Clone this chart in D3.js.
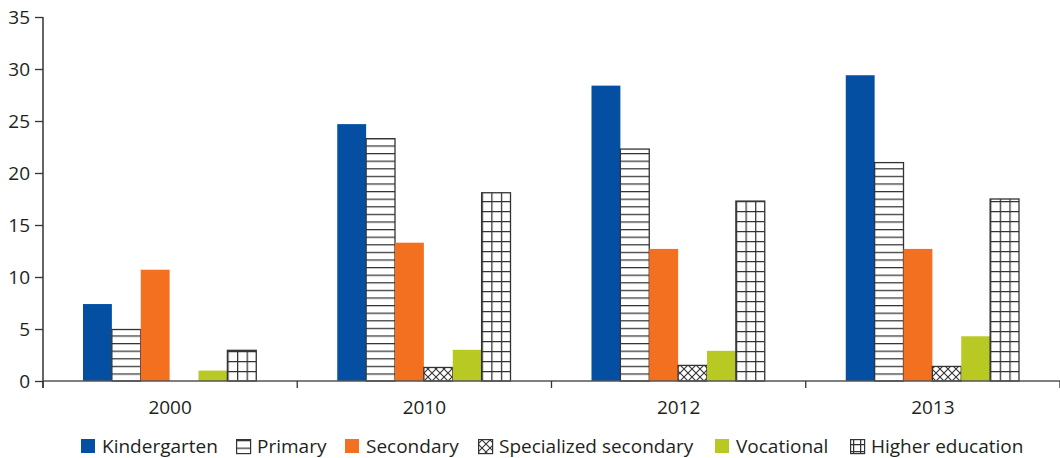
<!DOCTYPE html>
<html><head><meta charset="utf-8">
<script src="https://cdn.jsdelivr.net/npm/d3@7"></script>
<style>body{margin:0;background:#fff}svg{display:block}text{font-family:"Open Sans",sans-serif;fill:#231f20}</style>
</head><body><svg id="c" width="1060" height="458"></svg>
<script>
const years = ["2000","2010","2012","2013"];
const seriesNames = ["Kindergarten","Primary","Secondary","Specialized secondary","Vocational","Higher education"];
const kindergarten = [7.4, 24.7, 28.4, 29.4];
const primary = [4.95, 23.3, 22.3, 21.0];
const secondary = [10.7, 13.3, 12.7, 12.7];
const specialized = [0, 1.3, 1.5, 1.4];
const vocational = [1.0, 3.0, 2.9, 4.3];
const higher = [2.95, 18.1, 17.3, 17.5];
const yTicks = [0,5,10,15,20,25,30,35];

const values = [kindergarten, primary, secondary, specialized, vocational, higher];
const baseFills = ["#054fa3","url(#pPrim)","#f37021","url(#pSpec)","#b8c924",null];
const outlined = [false,true,false,true,false,true];

const svg = d3.select("#c");
const m = {l:43, r:0, t:17, b:77};
const W = 1060, H = 458;
const FS = "19px";
const x0 = d3.scaleBand().domain(years).range([m.l, W - m.r]).paddingInner(0).paddingOuter(0);
const x1 = d3.scaleBand().domain(seriesNames).range([40, x0.bandwidth()-41]).padding(0);
const y = d3.scaleLinear().domain([0,35]).range([H - m.b, m.t]);

const defs = svg.append("defs");
const pp = defs.append("pattern").attr("id","pPrim").attr("patternUnits","userSpaceOnUse").attr("width",8).attr("height",7.6).attr("y", y(0));
pp.append("rect").attr("width",8).attr("height",7.6).attr("fill","#fff");
pp.append("line").attr("x1",0).attr("x2",8).attr("y1",0.6).attr("y2",0.6).attr("stroke","#333").attr("stroke-width",1.3);
const ps = defs.append("pattern").attr("id","pSpec").attr("patternUnits","userSpaceOnUse").attr("width",8).attr("height",8).attr("y", y(0));
ps.append("rect").attr("width",8).attr("height",8).attr("fill","#fff");
ps.append("path").attr("d","M0,0L8,8M8,0L0,8").attr("stroke","#333").attr("stroke-width",1.1);
function highPattern(id, x0p, y0p, cw, ch) {
  const p = defs.append("pattern").attr("id", id).attr("patternUnits","userSpaceOnUse")
    .attr("width", cw).attr("height", ch).attr("x", x0p).attr("y", y0p);
  p.append("rect").attr("width", cw).attr("height", ch).attr("fill","#fff");
  p.append("line").attr("x1",0).attr("x2",cw).attr("y1",0.6).attr("y2",0.6).attr("stroke","#333").attr("stroke-width",1.3);
  p.append("line").attr("x1",0.6).attr("x2",0.6).attr("y1",0).attr("y2",ch).attr("stroke","#333").attr("stroke-width",1.3);
}

// bars
const g = svg.append("g");
years.forEach((yr, i) => {
  seriesNames.forEach((s, j) => {
    const v = values[j][i];
    if (!v) return;
    const bx = x0(yr) + x1(s);
    let fill = baseFills[j];
    if (fill === null) {
      const id = "pHigh" + i;
      highPattern(id, bx, y(0), x1.bandwidth() / 3, 10);
      fill = `url(#${id})`;
    }
    g.append("rect").attr("x", bx).attr("y", y(v)).attr("width", x1.bandwidth()).attr("height", y(0) - y(v))
      .attr("fill", fill)
      .attr("stroke", outlined[j] ? "#333" : "none").attr("stroke-width", outlined[j] ? 1.3 : 0);
  });
});

// y axis
const ya = svg.append("g").attr("transform", `translate(${m.l},0)`)
  .call(d3.axisLeft(y).tickValues(yTicks).tickSize(8).tickPadding(5));
ya.select(".domain").attr("stroke","#333").attr("stroke-width",1.5).attr("d", `M0,${m.t}V${y(0)+7}`);
ya.selectAll(".tick line").attr("stroke","#333").attr("stroke-width",1.3);
ya.selectAll("text").style("font-size",FS).style("fill","#231f20");

// x axis
const xa = svg.append("g").attr("transform", `translate(0,${y(0)})`)
  .call(d3.axisBottom(x0).tickSize(0).tickPadding(20));
xa.select(".domain").attr("stroke","#555").attr("stroke-width",1.5).attr("d", `M${m.l},0H${W}`);
xa.selectAll("text").style("font-size",FS).style("fill","#231f20");
const bounds = years.map(yr => x0(yr)).concat([x0(years[years.length-1]) + x0.bandwidth()]);
xa.selectAll(".bt").data(bounds).enter().append("line").attr("class","bt")
  .attr("x1", d => d).attr("x2", d => d).attr("y1", 0).attr("y2", 7).attr("stroke","#333").attr("stroke-width",1.3);

// legend
const lg = svg.append("g");
const legX = [81, 236, 345, 478, 715, 850];
seriesNames.forEach((s, j) => {
  const it = lg.append("g").attr("transform", `translate(${legX[j]},439)`);
  let lf = baseFills[j];
  if (lf === null) { highPattern("pHighLeg", legX[j], 439, 7, 7); lf = "url(#pHighLeg)"; }
  it.append("rect").attr("width", 14).attr("height", 14).attr("fill", lf)
    .attr("stroke", outlined[j] ? "#333" : "none").attr("stroke-width", 1.2)
    .attr("x", outlined[j] ? 0.6 : 0).attr("y", outlined[j] ? 0.6 : 0);
  it.append("text").attr("x", 21).attr("y", 14).style("font-size",FS).text(s);
});
</script></body></html>
